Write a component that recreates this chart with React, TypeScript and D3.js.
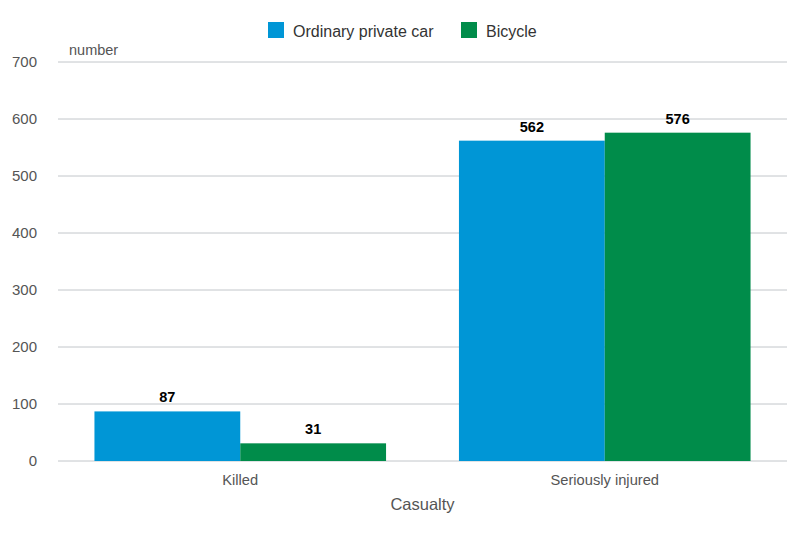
import React from "react";
import * as d3 from "d3";

const categories = ["Killed", "Seriously injured"];
const seriesNames = ["Ordinary private car", "Bicycle"];
const carValues = [87, 562];
const bicycleValues = [31, 576];
const yTicks = [0, 100, 200, 300, 400, 500, 600, 700];
const colors = ["#0096D6", "#008C4A"];

const W = 800;
const H = 533;
const margin = { left: 58, right: 13, top: 62, bottom: 72 };
const FONT = "'Liberation Sans', Arial, Helvetica, sans-serif";

export default function App() {
  const series = [carValues, bicycleValues];
  const x0 = d3
    .scaleBand<string>()
    .domain(categories)
    .range([margin.left, W - margin.right])
    .paddingInner(0.2)
    .paddingOuter(0.1);
  const x1 = d3
    .scaleBand<string>()
    .domain(seriesNames)
    .range([0, x0.bandwidth()])
    .padding(0);
  const y = d3
    .scaleLinear()
    .domain([0, 700])
    .range([H - margin.bottom, margin.top]);

  const plotLeft = margin.left;
  const plotRight = W - margin.right;

  return (
    <svg
      width={W}
      height={H}
      style={{ position: "absolute", left: 0, top: 0, background: "#fff" }}
      fontFamily={FONT}
    >
      {yTicks.map((t) => (
        <g key={t}>
          <line
            x1={plotLeft}
            x2={plotRight}
            y1={y(t)}
            y2={y(t)}
            stroke="#c2c6ca"
            strokeWidth={1}
          />
          <text
            x={37}
            y={y(t)}
            dy="0.35em"
            textAnchor="end"
            fontSize={15}
            fill="#555"
          >
            {t}
          </text>
        </g>
      ))}
      <text x={69} y={55} fontSize={14.5} fill="#555">
        number
      </text>

      {categories.map((c, ci) => (
        <g key={c} transform={`translate(${x0(c)},0)`}>
          {seriesNames.map((s, si) => {
            const v = series[si][ci];
            const bx = x1(s)!;
            return (
              <g key={s}>
                <rect
                  x={bx}
                  y={y(v)}
                  width={x1.bandwidth()}
                  height={y(0) - y(v)}
                  fill={colors[si]}
                />
                <text
                  x={bx + x1.bandwidth() / 2}
                  y={y(v) - 9}
                  textAnchor="middle"
                  fontSize={14.5}
                  fontWeight="bold"
                  fill="#000"
                >
                  {v}
                </text>
              </g>
            );
          })}
          <text
            x={x0.bandwidth() / 2}
            y={485}
            textAnchor="middle"
            fontSize={14.7}
            fill="#555"
          >
            {c}
          </text>
        </g>
      ))}

      <text
        x={(plotLeft + plotRight) / 2}
        y={510}
        textAnchor="middle"
        fontSize={16.5}
        fill="#555"
      >
        Casualty
      </text>

      {seriesNames.map((s, si) => {
        const lx = si === 0 ? 268 : 461;
        return (
          <g key={s}>
            <rect x={lx} y={22} width={16} height={16} fill={colors[si]} />
            <text x={lx + 25} y={37} fontSize={16} fill="#333">
              {s}
            </text>
          </g>
        );
      })}
    </svg>
  );
}
